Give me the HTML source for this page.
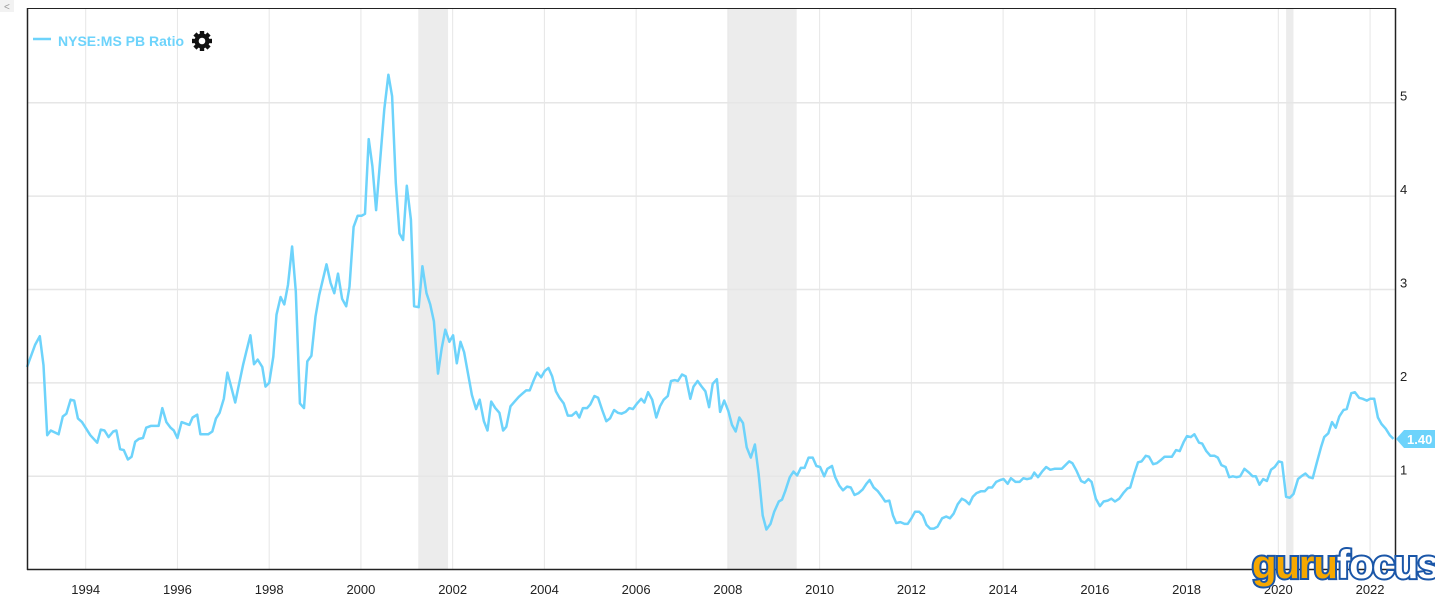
<!DOCTYPE html>
<html><head><meta charset="utf-8"><style>
html,body{margin:0;padding:0;background:#fff;width:1435px;height:597px;overflow:hidden;font-family:"Liberation Sans",sans-serif}
svg{display:block}
</style></head><body>
<svg id="chart" width="1435" height="597" xmlns="http://www.w3.org/2000/svg">
  <g id="bands"></g>
  <g id="grid"></g>
  <path id="series" fill="none" stroke="#6dd3fb" stroke-width="2.5" stroke-linejoin="round"></path>
  <line x1="27.5" y1="8" x2="27.5" y2="570" stroke="#222" stroke-width="1.5"/>
  <line x1="27" y1="8.5" x2="1395" y2="8.5" stroke="#222" stroke-width="1"/>
  <line x1="1395.5" y1="8" x2="1395.5" y2="570" stroke="#222" stroke-width="1.5"/>
  <line x1="27" y1="569.5" x2="1396" y2="569.5" stroke="#222" stroke-width="1.5"/>
  <g id="xlabels"></g>
  <g id="ylabels"></g>
  <g>
    <line x1="33" y1="39" x2="51" y2="39" stroke="#6dd3fb" stroke-width="2.5"/>
    <text x="58" y="46" font-size="14" font-weight="bold" fill="#6dd3fb">NYSE:MS PB Ratio</text>
    <g transform="translate(202,41)">
      <circle r="7.5" fill="#111"/>
      <g fill="#111"><rect x="-2.2" y="-10" width="4.4" height="20"/><rect x="-10" y="-2.2" width="20" height="4.4"/>
      <rect x="-2.2" y="-10" width="4.4" height="20" transform="rotate(45)"/><rect x="-2.2" y="-10" width="4.4" height="20" transform="rotate(-45)"/></g>
      <circle r="3.3" fill="#fff"/>
    </g>
  </g>
  <g id="lasttag"></g>
  <rect x="0" y="0" width="14" height="12" fill="#f2f2f2"/>
  <text x="4" y="10" font-size="10" fill="#999">&lt;</text>
  <g>
    <text x="1252" y="578" font-size="40" font-weight="bold" letter-spacing="-1" fill="#f6a800" stroke="#1a56a8" stroke-width="4" paint-order="stroke" font-style="normal">guru<tspan fill="#fff">focus</tspan></text>
  </g>
</svg>
<script>
const years=[1992.72,1992.9,1993.0,1993.08,1993.16,1993.24,1993.41,1993.5,1993.58,1993.67,1993.75,1993.83,1993.92,1994.1,1994.25,1994.33,1994.41,1994.5,1994.6,1994.67,1994.75,1994.83,1994.92,1995.0,1995.08,1995.16,1995.25,1995.32,1995.42,1995.59,1995.67,1995.76,1995.85,1995.92,1996.0,1996.09,1996.26,1996.33,1996.43,1996.5,1996.67,1996.76,1996.84,1996.92,1997.01,1997.09,1997.17,1997.26,1997.34,1997.43,1997.5,1997.59,1997.67,1997.75,1997.85,1997.92,1998.0,1998.09,1998.16,1998.25,1998.33,1998.41,1998.5,1998.58,1998.67,1998.76,1998.83,1998.92,1999.01,1999.09,1999.25,1999.34,1999.42,1999.5,1999.59,1999.68,1999.75,1999.84,1999.93,2000.02,2000.09,2000.17,2000.25,2000.33,2000.42,2000.51,2000.6,2000.68,2000.76,2000.84,2000.92,2001.0,2001.09,2001.16,2001.26,2001.34,2001.43,2001.51,2001.59,2001.68,2001.76,2001.84,2001.93,2002.01,2002.09,2002.17,2002.25,2002.42,2002.51,2002.59,2002.68,2002.76,2002.84,2002.93,2003.02,2003.1,2003.17,2003.26,2003.35,2003.44,2003.51,2003.6,2003.68,2003.77,2003.84,2003.93,2004.01,2004.09,2004.17,2004.25,2004.33,2004.42,2004.51,2004.6,2004.69,2004.76,2004.84,2004.93,2005.0,2005.09,2005.17,2005.26,2005.35,2005.43,2005.52,2005.6,2005.68,2005.77,2005.85,2005.93,2006.02,2006.11,2006.18,2006.26,2006.35,2006.44,2006.52,2006.6,2006.69,2006.76,2006.84,2006.91,2007.0,2007.08,2007.18,2007.25,2007.34,2007.43,2007.51,2007.59,2007.67,2007.76,2007.83,2007.92,2008.01,2008.09,2008.17,2008.25,2008.33,2008.41,2008.5,2008.59,2008.67,2008.76,2008.84,2008.93,2009.01,2009.11,2009.18,2009.25,2009.35,2009.43,2009.51,2009.59,2009.67,2009.76,2009.85,2009.93,2010.01,2010.1,2010.17,2010.27,2010.34,2010.43,2010.51,2010.6,2010.68,2010.76,2010.85,2010.94,2011.02,2011.09,2011.18,2011.27,2011.36,2011.43,2011.52,2011.6,2011.67,2011.76,2011.85,2011.92,2012.0,2012.08,2012.17,2012.25,2012.33,2012.41,2012.49,2012.57,2012.67,2012.76,2012.84,2012.92,2013.01,2013.1,2013.18,2013.26,2013.34,2013.42,2013.52,2013.6,2013.68,2013.76,2013.85,2013.94,2014.01,2014.1,2014.17,2014.27,2014.36,2014.44,2014.52,2014.61,2014.68,2014.76,2014.85,2014.94,2015.03,2015.12,2015.28,2015.44,2015.51,2015.6,2015.7,2015.78,2015.86,2015.93,2016.02,2016.11,2016.19,2016.28,2016.36,2016.44,2016.53,2016.62,2016.71,2016.77,2016.86,2016.94,2017.02,2017.11,2017.18,2017.27,2017.35,2017.43,2017.52,2017.68,2017.77,2017.85,2017.94,2018.01,2018.09,2018.17,2018.27,2018.34,2018.43,2018.52,2018.61,2018.68,2018.76,2018.85,2018.93,2019.01,2019.09,2019.17,2019.26,2019.36,2019.44,2019.51,2019.59,2019.67,2019.75,2019.84,2019.92,2020.01,2020.08,2020.17,2020.25,2020.33,2020.43,2020.5,2020.59,2020.67,2020.75,2020.84,2020.93,2021.0,2021.09,2021.17,2021.25,2021.33,2021.42,2021.49,2021.59,2021.67,2021.76,2021.84,2021.93,2022.0,2022.09,2022.17,2022.25,2022.34,2022.43,2022.51];
const values=[2.17,2.41,2.5,2.19,1.44,1.49,1.45,1.64,1.67,1.82,1.81,1.62,1.58,1.44,1.36,1.5,1.49,1.42,1.48,1.49,1.29,1.28,1.18,1.21,1.37,1.4,1.41,1.52,1.54,1.54,1.73,1.58,1.52,1.49,1.41,1.58,1.55,1.63,1.66,1.45,1.45,1.48,1.62,1.68,1.83,2.11,1.96,1.79,1.98,2.19,2.33,2.51,2.2,2.25,2.17,1.96,2.0,2.28,2.73,2.92,2.84,3.05,3.46,2.98,1.78,1.73,2.23,2.29,2.71,2.94,3.27,3.07,2.96,3.17,2.9,2.82,3.03,3.67,3.79,3.79,3.81,4.61,4.32,3.85,4.39,4.93,5.3,5.07,4.14,3.6,3.53,4.11,3.75,2.82,2.81,3.25,2.96,2.84,2.66,2.1,2.37,2.57,2.44,2.51,2.21,2.44,2.33,1.87,1.72,1.82,1.59,1.49,1.8,1.73,1.68,1.49,1.53,1.75,1.8,1.85,1.88,1.92,1.92,2.03,2.11,2.06,2.13,2.16,2.07,1.91,1.84,1.78,1.65,1.65,1.69,1.63,1.73,1.73,1.77,1.86,1.84,1.71,1.59,1.62,1.71,1.68,1.67,1.69,1.73,1.72,1.78,1.83,1.79,1.9,1.82,1.63,1.75,1.82,1.86,2.02,2.03,2.02,2.09,2.07,1.83,1.96,2.02,1.96,1.91,1.74,1.99,2.04,1.69,1.81,1.7,1.55,1.48,1.63,1.57,1.31,1.2,1.34,1.03,0.58,0.43,0.49,0.62,0.73,0.75,0.84,0.99,1.05,1.01,1.09,1.09,1.2,1.2,1.11,1.1,1.0,1.08,1.11,0.99,0.9,0.85,0.89,0.88,0.8,0.82,0.86,0.92,0.96,0.88,0.84,0.78,0.73,0.74,0.58,0.5,0.51,0.49,0.49,0.55,0.62,0.62,0.58,0.48,0.44,0.44,0.46,0.55,0.57,0.55,0.6,0.7,0.76,0.74,0.7,0.78,0.82,0.84,0.84,0.88,0.88,0.94,0.96,0.97,0.92,0.98,0.94,0.94,0.98,0.97,0.98,1.04,0.99,1.05,1.1,1.07,1.08,1.08,1.16,1.14,1.06,0.95,0.93,0.97,0.94,0.76,0.68,0.73,0.74,0.76,0.73,0.76,0.82,0.87,0.88,1.03,1.15,1.16,1.22,1.21,1.13,1.14,1.17,1.21,1.21,1.28,1.27,1.37,1.43,1.42,1.45,1.36,1.35,1.27,1.22,1.22,1.2,1.12,1.1,0.99,1.0,0.99,1.0,1.08,1.04,1.0,1.0,0.91,0.97,0.95,1.07,1.1,1.16,1.15,0.78,0.77,0.81,0.97,1.0,1.03,0.99,0.98,1.15,1.31,1.42,1.46,1.58,1.52,1.64,1.71,1.72,1.89,1.9,1.84,1.83,1.81,1.83,1.83,1.63,1.56,1.51,1.44,1.4];
const xTicks=[1994,1996,1998,2000,2002,2004,2006,2008,2010,2012,2014,2016,2018,2020,2022];
const yTicks=[1,2,3,4,5];
const recessionStarts=[2001.25,2008.0,2020.17];
const recessionEnds=[2001.9,2009.5,2020.33];
const lastLabel="1.40";

const X=t=>85.7+(t-1994)*45.87;
const Y=v=>569.7-v*93.4;
const NS="http://www.w3.org/2000/svg";
function mk(tag,attrs,parent){const e=document.createElementNS(NS,tag);for(const k in attrs)e.setAttribute(k,attrs[k]);parent.appendChild(e);return e;}

const bands=document.getElementById('bands');
recessionStarts.forEach((s,i)=>{
  const r=mk('rect',{x:X(s),y:8,width:X(recessionEnds[i])-X(s),height:561,fill:'#ececec'},bands);
  
  
});
const grid=document.getElementById('grid');
xTicks.forEach(t=>{
  const l=mk('line',{x1:X(t),x2:X(t),y1:8,y2:569,stroke:'#e6e6e6','stroke-width':1},grid);
  
  
  const tx=mk('text',{x:X(t),y:594,'font-size':13,fill:'#222','text-anchor':'middle'},document.getElementById('xlabels'));
  tx.textContent=t;
  
  
});
yTicks.forEach(v=>{
  const l=mk('line',{x1:27,x2:1395,y1:Y(v),y2:Y(v),stroke:'#e6e6e6','stroke-width':1.5},grid);
  
  
  const tx=mk('text',{x:1400,y:Y(v)-2,'font-size':13,fill:'#222'},document.getElementById('ylabels'));
  tx.textContent=v;
  
  
});
let d='';
years.forEach((t,i)=>{d+=(i?'L':'M')+X(t).toFixed(1)+' '+Y(values[i]).toFixed(1);});
document.getElementById('series').setAttribute('d',d);

const tag=document.getElementById('lasttag');
const ly=Y(values[values.length-1]);
mk('path',{d:`M1396 ${ly} L1404 ${ly-9} L1435 ${ly-9} L1435 ${ly+9} L1404 ${ly+9} Z`,fill:'#6dd3fb'},tag);
const lt=mk('text',{x:1407,y:ly+5,'font-size':13,'font-weight':'bold',fill:'#fff'},tag);
lt.textContent=lastLabel;


</script>
</body></html>
